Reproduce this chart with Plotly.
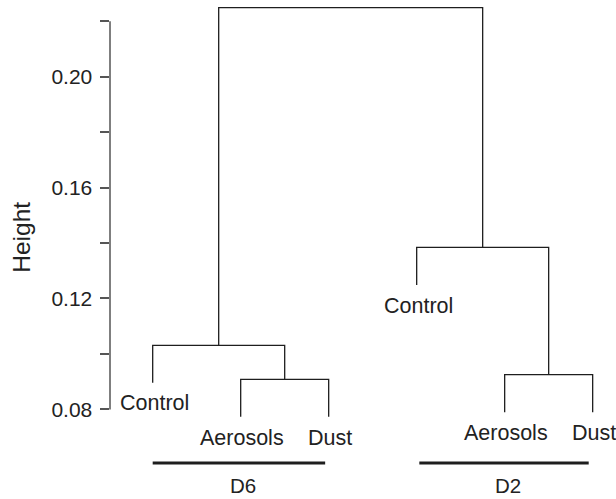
import plotly.graph_objects as go

# ---- data ----
leaf_labels = ["Control", "Aerosols", "Dust", "Control", "Aerosols", "Dust"]
# merges (R hclust style): negative = leaf position (1-based), positive = earlier merge (1-based)
merge_left = [-2, -5, -1, -4, 3]
merge_right = [-3, -6, 1, 2, 4]
merge_heights = [0.0908, 0.0925, 0.1031, 0.1384, 0.2249]
hang = 0.0135

group_names = ["D6", "D2"]
group_start = [1.0, 4.03]
group_end = [2.96, 5.955]
group_line_y = 0.0607
group_label_y = 0.0524

tick_values = [0.08, 0.10, 0.12, 0.14, 0.16, 0.18, 0.20, 0.22]
tick_labels = ["0.08", "", "0.12", "", "0.16", "", "0.20", ""]
axis_min, axis_max = 0.08, 0.22

FONT = "Liberation Sans, Arial, Helvetica, sans-serif"
LINE = "#1e1e1e"
TEXT = "#222222"
AXC = "#555555"

# ---- compute dendrogram geometry ----
node_x = {}
leaf_y = {}
segs_x, segs_y = [], []

def child_x(c):
    return float(-c) if c < 0 else node_x[c]

for i, (l, r, h) in enumerate(zip(merge_left, merge_right, merge_heights), start=1):
    xl, xr = child_x(l), child_x(r)
    yl = h - hang if l < 0 else merge_heights[l - 1]
    yr = h - hang if r < 0 else merge_heights[r - 1]
    if l < 0:
        leaf_y[-l] = yl
    if r < 0:
        leaf_y[-r] = yr
    segs_x += [xl, xl, xr, xr, None]
    segs_y += [yl, h, h, yr, None]
    node_x[i] = (xl + xr) / 2

fig = go.Figure()
fig.add_trace(go.Scatter(x=segs_x, y=segs_y, mode="lines",
                         line=dict(color=LINE, width=1.3), hoverinfo="skip",
                         showlegend=False))

# group lines
gx, gy = [], []
for s, e in zip(group_start, group_end):
    gx += [s, e, None]
    gy += [group_line_y, group_line_y, None]
fig.add_trace(go.Scatter(x=gx, y=gy, mode="lines",
                         line=dict(color=LINE, width=3), hoverinfo="skip",
                         showlegend=False))

annotations = []
for pos, lab in enumerate(leaf_labels, start=1):
    annotations.append(dict(x=pos, y=leaf_y[pos], text=lab, showarrow=False,
                            xanchor="center", yanchor="middle", yshift=-20.7,
                            xshift=1.5,
                            font=dict(family=FONT, size=21.5, color=TEXT)))
for name, s, e in zip(group_names, group_start, group_end):
    annotations.append(dict(x=(s + e) / 2, y=group_label_y, text=name, showarrow=False,
                            xanchor="center", yanchor="middle", xshift=4,
                            font=dict(family=FONT, size=20.5, color=TEXT)))
annotations.append(dict(xref="paper", x=(22 - 110) / 500, yref="y", y=0.1419,
                        text="Height", showarrow=False, textangle=-90,
                        xanchor="center", yanchor="middle",
                        font=dict(family=FONT, size=24.5, color=TEXT)))

fig.update_layout(
    width=616, height=499,
    margin=dict(l=110, r=6, t=0, b=0),
    paper_bgcolor="white", plot_bgcolor="white",
    annotations=annotations,
    shapes=[dict(type="line", xref="paper", x0=0, x1=0, yref="y",
                 y0=axis_min, y1=axis_max, line=dict(color=AXC, width=1.5))],
)
fig.update_xaxes(visible=False, range=[0.5148, 6.197])
fig.update_yaxes(range=[0.04768, 0.22764], showgrid=False, zeroline=False,
                 showline=False, tickmode="array", tickvals=tick_values,
                 ticktext=tick_labels, ticks="outside", ticklen=9.5,
                 tickwidth=1.5, tickcolor=AXC, ticklabelstandoff=3,
                 tickfont=dict(family=FONT, size=21, color=TEXT))

fig.write_html("out.html")
